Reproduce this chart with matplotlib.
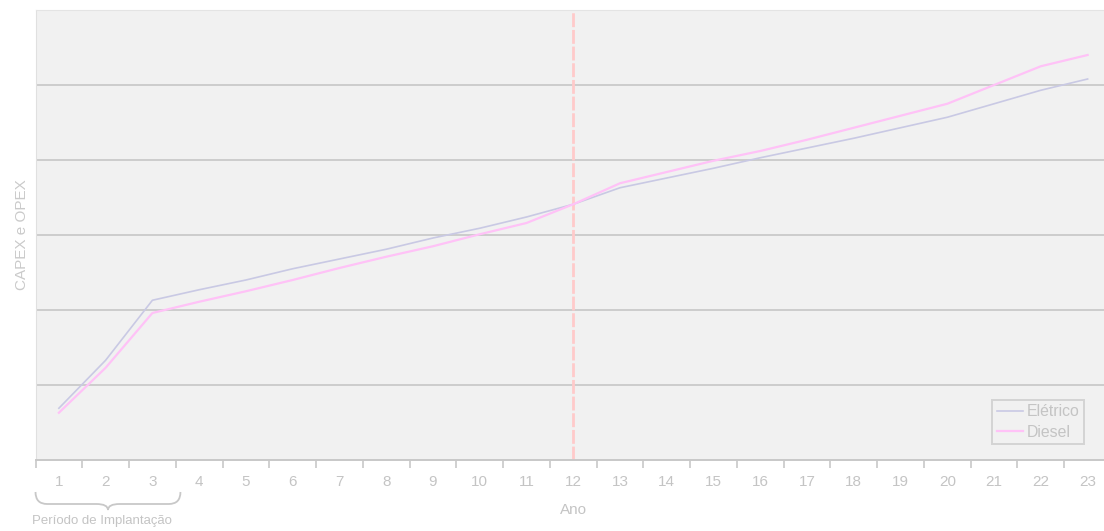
import matplotlib
matplotlib.use("Agg")
import matplotlib.pyplot as plt
from matplotlib.path import Path
from matplotlib.patches import PathPatch
import matplotlib.transforms as mtransforms

anos = list(range(1, 24))
eletrico = [0.69, 1.33, 2.13, 2.27, 2.40, 2.55, 2.68, 2.81, 2.96, 3.09, 3.24, 3.41,
            3.63, 3.76, 3.89, 4.03, 4.16, 4.29, 4.43, 4.57, 4.75, 4.93, 5.08]
diesel = [0.63, 1.23, 1.96, 2.11, 2.25, 2.40, 2.56, 2.71, 2.85, 3.01, 3.16, 3.41,
          3.69, 3.84, 3.99, 4.12, 4.27, 4.43, 4.59, 4.75, 5.00, 5.25, 5.40]
ano_marcado = 12

cinza_txt = "#c4c4c4"
plt.rcParams['font.family'] = ['Liberation Sans', 'DejaVu Sans']

fig = plt.figure(figsize=(11.04, 5.31), dpi=100)
# the plot area runs a few pixels past the right edge of the image
ax = fig.add_axes([35.5/1104, 1 - 460/531, 1075.5/1104, 450/531])
ax.set_facecolor("#f1f1f1")

ax.plot(anos, eletrico, color="#c9c9e4", lw=1.2, label="Elétrico", zorder=3)
ax.plot(anos, diesel, color="#ffc2f7", lw=1.6, label="Diesel", zorder=4)
ax.axvline(ano_marcado, color="#ffcaca", lw=2, dashes=(5, 1), zorder=2)

ax.set_xlim(0.5, 23.5)
ax.set_ylim(0, 6)
ax.set_yticks([1, 2, 3, 4, 5])
ax.set_yticklabels([])
ax.tick_params(axis="y", length=0)
ax.grid(axis="y", color="#cccccc", lw=1.4)
ax.set_axisbelow(True)

ax.set_xticks(anos)
ax.set_xticklabels([str(a) for a in anos])
ax.set_xticks([a + 0.5 for a in [0] + anos], minor=True)
ax.tick_params(axis="x", which="major", length=0, pad=11, labelsize=11, labelcolor=cinza_txt)
ax.tick_params(axis="x", which="minor", length=6, width=1.2, color="#c8c8c8")

for s in ["top", "right"]:
    ax.spines[s].set_color("#e4e4e4")
ax.spines["left"].set_color("#e0e0e0")
ax.spines["bottom"].set_color("#c8c8c8")
ax.spines["bottom"].set_linewidth(1.4)

ax.set_xlabel("Ano", color=cinza_txt, fontsize=11, labelpad=10)
ax.set_ylabel("CAPEX e OPEX", color="#cacaca", fontsize=11, labelpad=1)

leg = ax.legend(loc="lower right", bbox_to_anchor=(0.975, 16/450), fontsize=11.4,
                frameon=True, fancybox=False, handlelength=1.65, borderpad=0.28,
                labelspacing=0.33, handletextpad=0.25, borderaxespad=0)
leg.get_frame().set_facecolor("#f1f1f1")
leg.get_frame().set_edgecolor("#cccccc")
leg.get_frame().set_linewidth(1.4)
for t in leg.get_texts():
    t.set_color(cinza_txt)

# chave sob o periodo de implantacao
tr = mtransforms.blended_transform_factory(ax.transData, ax.transAxes)
y0, y1, y2 = -32/450, -44/450, -50/450
verts = [(0.5, y0), (0.5, y1), (0.75, y1), (1.8, y1), (2.05, y1), (2.05, y2),
         (2.05, y1), (2.3, y1), (3.35, y1), (3.6, y1), (3.6, y0)]
codes = [Path.MOVETO, Path.CURVE3, Path.CURVE3, Path.LINETO, Path.CURVE3, Path.CURVE3,
         Path.CURVE3, Path.CURVE3, Path.LINETO, Path.CURVE3, Path.CURVE3]
ax.add_patch(PathPatch(Path(verts, codes), fill=False, edgecolor="#c8c8c8", lw=1.3,
                       transform=tr, clip_on=False))
ax.text(0.43, -61/450, "Período de Implantação", transform=tr, color=cinza_txt,
        fontsize=9.5, ha="left", va="center")

fig.savefig("out.png", dpi=100)
